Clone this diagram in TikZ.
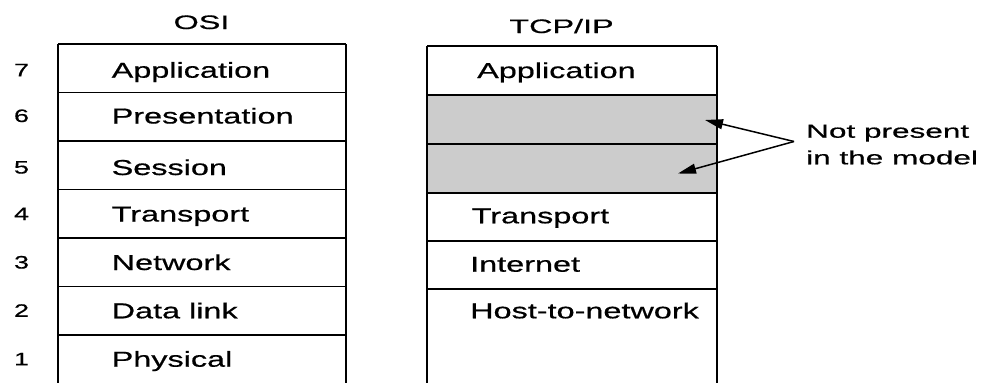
\documentclass[tikz,border=0pt]{standalone}
\usepackage{fontspec}
\setmainfont{Liberation Sans}[FakeStretch=1.5,FakeBold=0.6]
\newfontfamily\widefont{Liberation Sans}[FakeStretch=1.66,FakeBold=0.6]
\usetikzlibrary{arrows.meta}
\begin{document}
\begin{tikzpicture}[x=1pt,y=-1pt,
  layer/.style={anchor=base west,inner sep=0pt,font=\fontsize{21.6}{25}\selectfont},
  num/.style={anchor=base,inner sep=0pt,font=\fontsize{18}{22}\selectfont},
  heading/.style={anchor=base,inner sep=0pt,font=\widefont\fontsize{19.5}{24}\selectfont},
  note/.style={anchor=base west,inner sep=0pt,font=\widefont\fontsize{19}{24}\selectfont},
  rule/.style={line width=1.3pt},
  pointer/.style={line width=1.5pt,-{Triangle[length=18pt,width=10pt]}}]
\useasboundingbox (0,0) rectangle (989,383);

% ---- OSI stack ----
\node[heading] (osi) at (201.5,29) {OSI};
\draw[rule] (58,44) -- (346,44);
\foreach \y in {92.5,141,189.5,238,286.5,335}
  \draw[rule] (58,\y) -- (346,\y);
\draw[line width=1.3pt] (58,44) -- (58,383);
\draw[line width=2.6pt] (346,44) -- (346,383);

\foreach \n/\t/\b in {7/Application/77.7,6/Presentation/123.5,5/Session/175,
                      4/Transport/221.5,3/Network/270,2/Data link/318.3,1/Physical/366.7}{
  \node[num] (num\n) at (21.5,\b-1.5) {\n};
  \node[layer] (osi\n) at (111.5,\b) {\t};
}

% ---- TCP/IP stack ----
\node[heading] (tcpip) at (561.5,33) {TCP/IP};
\fill[black!20] (427,95) rectangle (717,193);
\draw[rule] (427,46) -- (717,46);
\foreach \y in {95,144,193,241,289}
  \draw[rule] (427,\y) -- (717,\y);
\draw[line width=2.2pt] (427,46) -- (427,383);
\draw[line width=2.6pt] (717,46) -- (717,383);

\node[layer] (tcpapp)  at (477,78)    {Application};
\node[layer] (tcptra)  at (471.5,223.3) {Transport};
\node[layer] (tcpinet) at (470,271.7) {Internet};
\node[layer] (tcphost) at (470,318.3) {Host-to-network};

% ---- annotation for the missing layers ----
\node[note] (notea) at (806,137.7) {Not present};
\node[note] (noteb) at (806,164.3) {in the model};
\coordinate (apex) at (794,141.5);
\coordinate (tipsix) at (705,120);
\coordinate (tipfive) at (678,173.5);
\draw[pointer] (apex) -- (tipsix);
\draw[pointer] (apex) -- (tipfive);
\end{tikzpicture}
\end{document}
